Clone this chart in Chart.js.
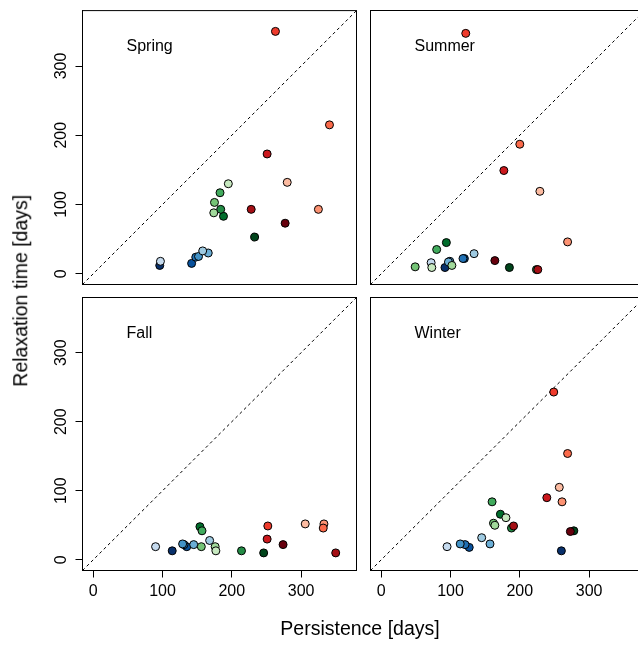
<!DOCTYPE html>
<html><head><meta charset="utf-8">
<script src="https://cdn.jsdelivr.net/npm/chart.js@4.4.1/dist/chart.umd.min.js"></script>
<style>
html,body{margin:0;padding:0;background:#fff;overflow:hidden;}
#wrap{position:relative;width:638px;height:646px;overflow:hidden;background:#fff;}
canvas{position:absolute;left:0;top:0;}
.t{position:absolute;font-family:"Liberation Sans",Arial,Helvetica,sans-serif;font-size:19.5px;line-height:1;height:19.5px;color:#000;white-space:nowrap;text-align:center;}
</style></head><body>
<div id="wrap">
<canvas id="c0" width="700" height="646"></canvas>
<canvas id="c1" width="700" height="646"></canvas>
<canvas id="c2" width="700" height="646"></canvas>
<canvas id="c3" width="700" height="646"></canvas>
<div class="t" style="left:210px;top:618.5px;width:300px;">Persistence [days]</div>
<div class="t" style="left:-129.5px;top:281px;width:300px;transform:rotate(-90deg);">Relaxation time [days]</div>
</div>
<script>
// ---- data (drawing order: blues dark->light, greens dark->light, reds) ----
const seasons = ['Spring', 'Summer', 'Fall', 'Winter'];

const springPersistence = [96, 142, 148, 152, 166, 158, 97, 233, 188, 184, 183, 175, 174, 195, 280, 325, 341, 263, 251, 228, 277];
const springRelaxation  = [12, 15, 24, 25, 30, 33, 18, 53, 83, 93, 117, 103, 88, 130, 132, 93, 215, 350, 173, 93, 73];

const summerPersistence = [92, 120, 118, 99, 97, 134, 72, 185, 94, 224, 80, 49, 102, 73, 229, 269, 200, 122, 177, 226, 164];
const summerRelaxation  = [9, 22, 22, 18, 17, 29, 16, 9, 45, 6, 35, 10, 12, 9, 119, 46, 187, 347, 149, 6, 19];

const fallPersistence = [114, 135, 131, 129, 145, 168, 90, 246, 154, 214, 157, 156, 176, 177, 306, 333, 332, 252, 251, 350, 274];
const fallRelaxation  = [13, 19, 22, 23, 22, 28, 19, 10, 48, 13, 42, 19, 19, 13, 52, 52, 46, 49, 30, 10, 22];

const winterPersistence = [260, 127, 121, 114, 157, 145, 95, 278, 172, 188, 160, 162, 164, 180, 257, 261, 269, 249, 239, 191, 273];
const winterRelaxation  = [13, 18, 22, 23, 23, 32, 19, 42, 66, 46, 84, 53, 50, 61, 105, 84, 154, 243, 90, 49, 41];

const tickValues = [0, 100, 200, 300];
const axisMin = -15.5;
const axisMax = 380;
const diagonal = [axisMin, axisMax];

// ---- styles ----
const stationColors = [
  '#08306b','#08519c','#2171b5','#4292c6','#6baed6','#9ecae1','#c6dbef',
  '#00441b','#006d2c','#238b45','#41ab5d','#74c476','#a1d99b','#c7e9c0',
  '#fcbba1','#fc9272','#fb6a4a','#ef3b2c','#cb181d','#a50f15','#67000d'
];
const FONT = '"Liberation Sans", Arial, Helvetica, sans-serif';

const seriesX = [springPersistence, summerPersistence, fallPersistence, winterPersistence];
const seriesY = [springRelaxation, summerRelaxation, fallRelaxation, winterRelaxation];

// panel boxes (chart area) and which axes are shown
const panels = [
  {L: 82.5,  R: 356.5, T: 10.5,  B: 284.5, showX: false, showY: true},
  {L: 370.5, R: 644.5, T: 10.5,  B: 284.5, showX: false, showY: false},
  {L: 82.5,  R: 356.5, T: 297.5, B: 570.5, showX: true,  showY: true},
  {L: 370.5, R: 644.5, T: 297.5, B: 570.5, showX: true,  showY: false}
];
const CW = 700, CH = 646, YW = 40, XH = 30;

const panelDecor = {
  id: 'panelDecor',
  afterDraw(chart, args, opts) {
    const {ctx, chartArea: a} = chart;
    const x = chart.scales.x, y = chart.scales.y;
    ctx.save();
    ctx.font = '16px ' + FONT;
    ctx.fillStyle = '#000';
    ctx.textAlign = 'left';
    ctx.textBaseline = 'alphabetic';
    ctx.fillText(opts.text, x.getPixelForValue(48), y.getPixelForValue(322));
    ctx.strokeStyle = '#000';
    ctx.lineWidth = 1;
    ctx.strokeRect(a.left, a.top, a.right - a.left, a.bottom - a.top);
    ctx.restore();
  }
};

const setTicks = s => { s.ticks = tickValues.map(v => ({value: v})); };

panels.forEach((p, i) => {
  const xs = seriesX[i], ys = seriesY[i];
  const xh = p.showX ? XH : 0, yw = p.showY ? YW : 0;
  new Chart(document.getElementById('c' + i), {
    type: 'scatter',
    data: {
      datasets: [
        {
          data: xs.map((v, k) => ({x: v, y: ys[k]})),
          pointRadius: 4,
          pointHoverRadius: 4,
          pointBorderWidth: 1,
          pointBorderColor: '#000',
          pointBackgroundColor: stationColors,
          showLine: false
        },
        {
          type: 'line',
          data: diagonal.map(v => ({x: v, y: v})),
          borderColor: '#000',
          borderWidth: 1,
          borderDash: [3, 3],
          pointRadius: 0,
          fill: false
        }
      ]
    },
    options: {
      responsive: false,
      animation: false,
      devicePixelRatio: 1,
      events: [],
      layout: {
        padding: {
          left: p.L - yw,
          right: CW - p.R,
          top: p.T,
          bottom: CH - p.B - xh
        }
      },
      plugins: {
        legend: {display: false},
        tooltip: {enabled: false},
        panelDecor: {text: seasons[i]}
      },
      scales: {
        x: {
          type: 'linear',
          display: p.showX,
          min: axisMin, max: axisMax,
          afterBuildTicks: setTicks,
          afterFit: s => { s.height = xh; },
          grid: {drawOnChartArea: false, drawTicks: true, tickLength: 7, color: '#000', lineWidth: 1},
          border: {display: true, color: '#000', width: 1},
          ticks: {font: {family: FONT, size: 16}, color: '#000', padding: 4, maxRotation: 0, minRotation: 0, autoSkip: false}
        },
        y: {
          type: 'linear',
          display: p.showY,
          min: axisMin, max: axisMax,
          afterBuildTicks: setTicks,
          afterFit: s => { s.width = yw; },
          grid: {drawOnChartArea: false, drawTicks: true, tickLength: 7, color: '#000', lineWidth: 1},
          border: {display: true, color: '#000', width: 1},
          ticks: {font: {family: FONT, size: 16}, color: '#000', padding: 1, minRotation: 90, maxRotation: 90, crossAlign: 'center', autoSkip: false}
        }
      }
    },
    plugins: [panelDecor]
  });
});
</script>
</body></html>
